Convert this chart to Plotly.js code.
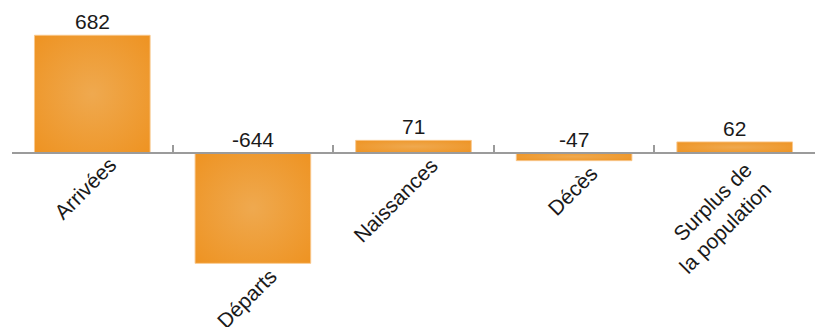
<!DOCTYPE html>
<html>
<head>
<meta charset="utf-8">
<script src="https://cdn.plot.ly/plotly-3.0.1.min.js"></script>
<style>
  html, body { margin: 0; padding: 0; background: #ffffff; }
  #chart { width: 817px; height: 327px; }
</style>
</head>
<body>
<div id="chart"></div>
<script>
// ---- data ----
const categories = ["Arrivées", "Départs", "Naissances", "Décès", "Surplus de<br>la population"];
const values = [682, -644, 71, -47, 62];
const valueLabels = ["682", "-644", "71", "-47", "62"];

// ---- style ----
const FONT = "Liberation Sans, Arial, sans-serif";
const FS = 21;
const TEXT_COLOR = "#1a1a1a";
const AXIS_COLOR = "#9b9b9b";
const Y_RANGE = [-1014, 887];

const idx = categories.map((_, i) => i);

const trace = {
  type: "bar",
  x: idx,
  y: values,
  marker: {
    color: "#EE9C36",
    line: { color: "rgba(249,200,140,0.9)", width: 1 }
  },
  hoverinfo: "none"
};

const annotations = [];
categories.forEach((c, i) => {
  const v = values[i];
  // value label
  annotations.push({
    x: i, y: Math.max(0, v), xref: "x", yref: "y",
    text: valueLabels[i], showarrow: false,
    xanchor: "center", yanchor: "bottom", yshift: 0,
    font: { family: FONT, size: FS, color: TEXT_COLOR }
  });
  // category label (rotated), placed below the bar / axis
  const nLines = c.split("<br>").length;
  annotations.push({
    x: i, y: Math.min(0, v), xref: "x", yref: "y",
    text: c, showarrow: false, textangle: -45,
    xanchor: "right", yanchor: "top",
    xshift: 31 + 12 * (nLines - 1), yshift: 2 - 5 * (nLines - 1),
    align: "right",
    font: { family: FONT, size: FS, color: TEXT_COLOR }
  });
});

const zeroPos = (0 - Y_RANGE[0]) / (Y_RANGE[1] - Y_RANGE[0]);

const layout = {
  width: 817, height: 327,
  margin: { l: 12, r: 2, t: 0, b: 0, pad: 0 },
  paper_bgcolor: "#ffffff", plot_bgcolor: "#ffffff",
  showlegend: false,
  bargap: 0.28,
  font: { family: FONT, size: FS, color: TEXT_COLOR },
  xaxis: {
    type: "linear",
    range: [-0.5, categories.length - 0.5],
    anchor: "free", position: zeroPos,
    showline: true, linecolor: AXIS_COLOR, linewidth: 2,
    showgrid: false, zeroline: false,
    tickmode: "array",
    tickvals: idx.concat([categories.length - 1]).map((_, k) => k - 0.5),
    ticks: "inside", ticklen: 7, tickwidth: 2, tickcolor: AXIS_COLOR,
    showticklabels: false, fixedrange: true
  },
  yaxis: {
    range: Y_RANGE, visible: false, showgrid: false, zeroline: false, fixedrange: true
  },
  annotations: annotations
};

Plotly.newPlot("chart", [trace], layout, { displayModeBar: false, staticPlot: true }).then(gd => {
  // radial gradient fill on the bars, as in the original
  const svg = gd.querySelector("svg.main-svg");
  const ns = "http://www.w3.org/2000/svg";
  let defs = svg.querySelector("defs");
  if (!defs) { defs = document.createElementNS(ns, "defs"); svg.insertBefore(defs, svg.firstChild); }
  const g = document.createElementNS(ns, "radialGradient");
  g.setAttribute("id", "bargrad");
  g.setAttribute("cx", "0.5"); g.setAttribute("cy", "0.5"); g.setAttribute("r", "0.7");
  [["0", "#EFA94F"], ["1", "#EE9322"]].forEach(([o, c]) => {
    const s = document.createElementNS(ns, "stop");
    s.setAttribute("offset", o); s.setAttribute("stop-color", c);
    g.appendChild(s);
  });
  defs.appendChild(g);
  gd.querySelectorAll(".bars .point path").forEach(p => { p.style.fill = "url(#bargrad)"; });
});
</script>
</body>
</html>
